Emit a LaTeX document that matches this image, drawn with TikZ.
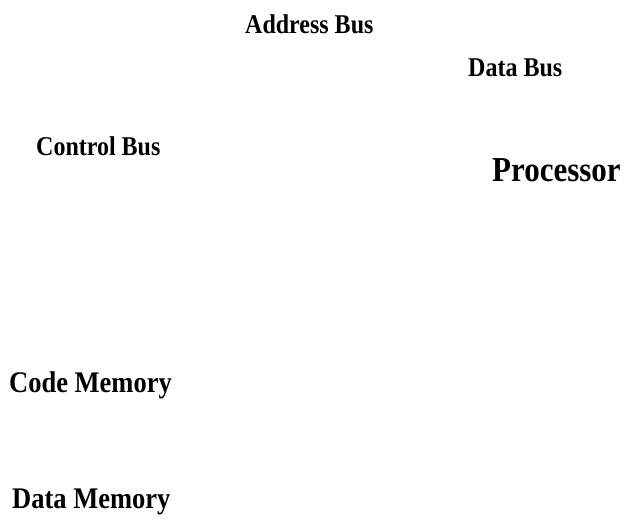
\documentclass[tikz,border=0pt]{standalone}
\usepackage{fontspec}
\setmainfont{Liberation Serif}
% slightly tall lettering
\newcommand{\tallbox}[1]{\scalebox{1}[1.13]{#1}}
\begin{document}
\begin{tikzpicture}[x=1pt,y=-1pt,
  lbl/.style={anchor=base west,inner sep=0pt,font=\bfseries\fontsize{24}{28}\selectfont},
  title/.style={anchor=base west,inner sep=0pt,font=\bfseries\fontsize{31}{36}\selectfont},
  mem/.style={anchor=base west,inner sep=0pt,font=\bfseries\fontsize{26.5}{31}\selectfont}]
  \useasboundingbox[fill=white] (0,0) rectangle (627,521);
  % bus labels
  \node[lbl] (abus) at (245,34) {\tallbox{Address Bus}};
  \node[lbl] (dbus) at (468,77) {\tallbox{Data Bus}};
  \node[lbl] (cbus) at (36,156) {\tallbox{Control Bus}};
  % processor
  \node[title] (cpu) at (492,182) {\tallbox{Processor}};
  % memories
  \node[mem] (cmem) at (9,393) {\tallbox{Code Memory}};
  \node[mem] (dmem) at (12,508) {\tallbox{Data Memory}};
\end{tikzpicture}
\end{document}
